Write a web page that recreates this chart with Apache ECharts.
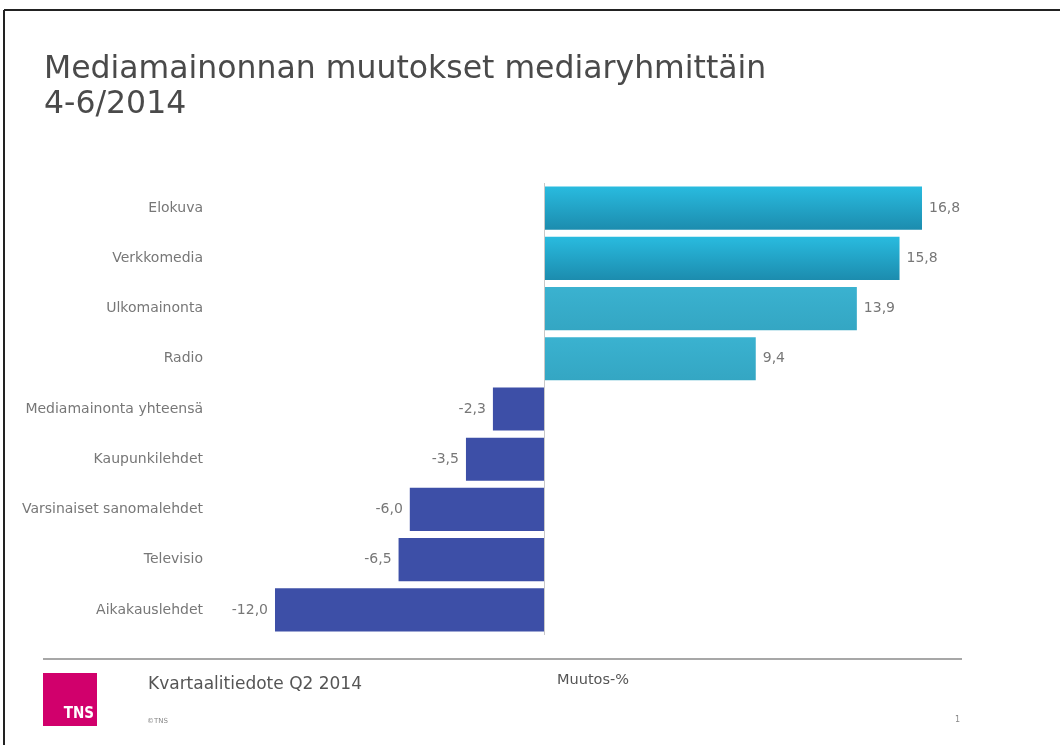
<!DOCTYPE html>
<html>
<head>
<meta charset="utf-8">
<script src="https://cdn.jsdelivr.net/npm/echarts@6/dist/echarts.min.js"></script>
<style>
  html, body { margin: 0; padding: 0; background: #fff; }
  #main { width: 1060px; height: 745px; }
</style>
</head>
<body>
<div id="main"></div>
<script>
// mediaryhmät ja muutos-%
var categories = ['Elokuva', 'Verkkomedia', 'Ulkomainonta', 'Radio', 'Mediamainonta yhteensä',
    'Kaupunkilehdet', 'Varsinaiset sanomalehdet', 'Televisio', 'Aikakauslehdet']
var changes = [16.8, 15.8, 13.9, 9.4, -2.3, -3.5, -6.0, -6.5, -12.0]

var textFont = 'DejaVu Sans'

// palkkien värit
function barColor (i, v) {
    if (v < 0) return '#3d4fa7'
    if (i < 2) {
        return new echarts.graphic.LinearGradient(0, 0, 0, 1, [
            {offset: 0, color: '#29bbdf'},
            {offset: 1, color: '#1c8cae'}
        ])
    }
    return new echarts.graphic.LinearGradient(0, 0, 0, 1, [
        {offset: 0, color: '#3ab2d0'},
        {offset: 1, color: '#34a6c3'}
    ])
}

var barData = changes.map(function (v, i) {
    return {
        value: v,
        itemStyle: {color: barColor(i, v)},
        label: {position: v < 0 ? 'left' : 'right'}
    }
})

var myChart = echarts.init(document.getElementById('main'))
var option = {
    backgroundColor: '#fff',
    animation: false,
    title: {
        text: 'Mediamainonnan muutokset mediaryhmittäin\n4-6/2014',
        left: 39,
        top: 47,
        textStyle: {
            fontFamily: textFont,
            fontSize: 31.5,
            fontWeight: 'normal',
            color: '#4a4a4a',
            lineHeight: 35
        }
    },
    grid: {
        left: 275,
        right: 138,
        top: 183,
        bottom: 110
    },
    xAxis: {
        type: 'value',
        min: -12,
        max: 16.8,
        show: false
    },
    yAxis: {
        type: 'category',
        inverse: true,
        data: categories,
        axisLine: {show: false},
        axisTick: {show: false},
        axisLabel: {
            margin: 72,
            fontFamily: textFont,
            fontSize: 14,
            color: '#777'
        }
    },
    series: [
        {
            type: 'bar',
            barCategoryGap: '14%',
            data: barData,
            label: {
                show: true,
                distance: 7,
                fontFamily: textFont,
                fontSize: 14,
                color: '#777',
                formatter: function (p) {
                    return p.value.toFixed(1).replace('.', ',')
                }
            },
            markLine: {
                silent: true,
                symbol: 'none',
                label: {show: false},
                lineStyle: {color: '#c8c8c8', width: 1, type: 'solid'},
                data: [{xAxis: 0}]
            }
        }
    ],
    graphic: [
        // kehys
        {type: 'line', shape: {x1: 4, y1: 10, x2: 1060, y2: 10}, style: {stroke: '#222', lineWidth: 2}},
        {type: 'line', shape: {x1: 4, y1: 10, x2: 4, y2: 745}, style: {stroke: '#222', lineWidth: 2}},
        // alatunniste
        {type: 'line', shape: {x1: 43, y1: 659, x2: 962, y2: 659}, style: {stroke: '#8a8a8a', lineWidth: 1.5}},
        {type: 'rect', shape: {x: 43, y: 673, width: 54, height: 53}, style: {fill: '#d1006c'}},
        {type: 'text', x: 94, y: 722, style: {text: 'TNS', fill: '#fff', font: 'bold 15px "DejaVu Sans Condensed", "DejaVu Sans"', textAlign: 'right', textVerticalAlign: 'bottom'}},
        {type: 'text', x: 148, y: 685, style: {text: 'Kvartaalitiedote Q2 2014', fill: '#555', font: '17px "DejaVu Sans"', textVerticalAlign: 'middle'}},
        {type: 'text', x: 557, y: 680, style: {text: 'Muutos-%', fill: '#555', font: '14.5px "DejaVu Sans"', textVerticalAlign: 'middle'}},
        {type: 'text', x: 147, y: 721, style: {text: '©TNS', fill: '#888', font: '7px "DejaVu Sans"', textVerticalAlign: 'middle'}},
        {type: 'text', x: 955, y: 720, style: {text: '1', fill: '#888', font: '8px "DejaVu Sans"', textVerticalAlign: 'middle'}}
    ]
}
myChart.setOption(option)
</script>
</body>
</html>
